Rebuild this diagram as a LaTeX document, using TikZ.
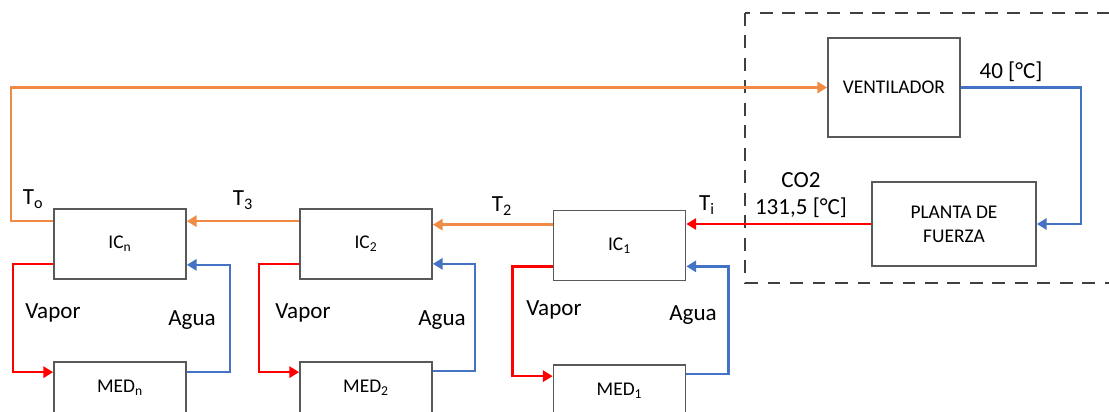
\documentclass[tikz,border=0pt]{standalone}
\usepackage{fontspec}
\setmainfont{Carlito}
\usepackage{tikz}
\usetikzlibrary{arrows.meta,calc}
\definecolor{flowor}{HTML}{F08A45}
\definecolor{flowbl}{HTML}{4472C4}
\definecolor{flowrd}{HTML}{FF0000}
\definecolor{boxgray}{HTML}{595959}
\definecolor{dashgray}{HTML}{404040}

\begin{document}
\begin{tikzpicture}[
  x=0.025cm, y=-0.025cm,
  >={Triangle[length=7pt,width=8pt]},
  block/.style={draw=boxgray, line width=1.2pt, minimum width=3.3cm, minimum height=1.75cm, inner sep=0pt, align=center, font=\fontsize{13.8}{17}\selectfont},
  medblock/.style={block, minimum height=1.3cm},
  flow/.style={->, line width=1.8pt},
  oflow/.style={flow, draw=flowor},
  bflow/.style={flow, draw=flowbl},
  rflow/.style={flow, draw=flowrd},
  lbl/.style={inner sep=0pt, font=\fontsize{16.4}{20}\selectfont}
]
  \useasboundingbox (0,0) rectangle (1109,412);

  % power plant area
  \draw[dashgray, line width=1.3pt, dash pattern=on 9pt off 7pt] (745,13) rectangle (1130,283);

  \node[block, minimum height=2.475cm] (vent) at (894,87.5) {VENTILADOR};
  \node[block, minimum width=4.1cm, minimum height=2.1cm] (planta) at (954,224) {PLANTA DE\\FUERZA};

  \node[block] (icn) at (120,244) {IC\textsubscript{n}};
  \node[block] (ic2) at (366,244) {IC\textsubscript{2}};
  \node[block] (ic1) at (619.5,245.5) {IC\textsubscript{1}};
  \node[medblock] (medn) at (120,388) {MED\textsubscript{n}};
  \node[medblock] (med2) at (366,388) {MED\textsubscript{2}};
  \node[medblock] (med1) at (619.5,391) {MED\textsubscript{1}};

  % CO2 circuit
  \draw[bflow] (vent.east) -- ++(120,0) |- (planta.east);
  \draw[rflow] (planta.west) -- (ic1.east |- planta.west);
  \draw[oflow] ($(ic1.north west)+(0,15)$) coordinate (t2) -- (ic2.east |- t2);
  \draw[oflow] ($(ic2.north west)+(0,13)$) coordinate (t3) -- (icn.east |- t3);
  \draw[oflow] ($(icn.north west)+(0,13)$) -- ++(-42,0) |- (vent.west);

  % vapor / agua loops
  \draw[rflow] ($(icn.south west)+(0,-16)$) -- ++(-40,0) |- ($(medn.north west)+(0,11)$);
  \draw[bflow] ($(medn.north east)+(0,11)$) -- ++(43,0) |- ($(icn.south east)+(0,-15)$);
  \draw[rflow] ($(ic2.south west)+(0,-16)$) -- ++(-40,0) |- ($(med2.north west)+(0,11)$);
  \draw[bflow] ($(med2.north east)+(0,10)$) -- ++(42,0) |- ($(ic2.south east)+(0,-16)$);
  \draw[rflow] ($(ic1.south west)+(0,-15)$) -- ++(-40,0) |- ($(med1.north west)+(0,12)$);
  \draw[bflow] ($(med1.north east)+(0,10)$) -- ++(42,0) |- ($(ic1.south east)+(0,-15)$);

  % labels
  \node[lbl] (lto) at (33,199) {T\textsubscript{o}};
  \node[lbl] (lt3) at (243,200) {T\textsubscript{3}};
  \node[lbl] (lt2) at (502,206) {T\textsubscript{2}};
  \node[lbl] (lti) at (707,205) {T\textsubscript{i}};
  \node[lbl] (lco) at (801,180) {CO2};
  \node[lbl] (ltemp) at (801,208) {131,5 [°C]};
  \node[lbl] (lvent) at (1011,72) {40 [°C]};
  \node[lbl] (vapn) at (53,313) {Vapor};
  \node[lbl] (aguan) at (192,320) {Agua};
  \node[lbl] (vap2) at (303,313) {Vapor};
  \node[lbl] (agua2) at (442,320) {Agua};
  \node[lbl] (vap1) at (554,310) {Vapor};
  \node[lbl] (agua1) at (693,315) {Agua};
\end{tikzpicture}
\end{document}
